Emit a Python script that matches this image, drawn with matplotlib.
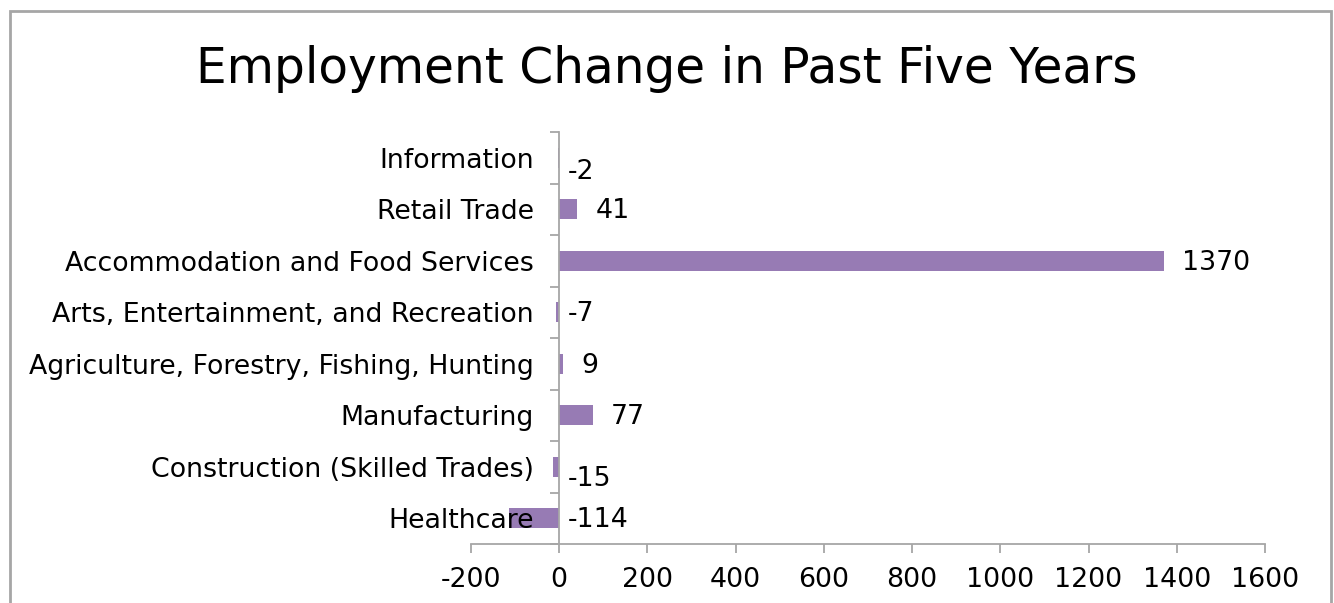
"""
Horizontal bar chart: employment change in past five years
"""

import numpy as np
from matplotlib import pyplot as plt, rcParams as rcP
from matplotlib.patches import Rectangle

rcP["font.family"] = "DejaVu Sans"

# Data (bottom to top)
categories = [
    "Healthcare",
    "Construction (Skilled Trades)",
    "Manufacturing",
    "Agriculture, Forestry, Fishing, Hunting",
    "Arts, Entertainment, and Recreation",
    "Accommodation and Food Services",
    "Retail Trade",
    "Information",
]
changes = [-114, -15, 77, 9, -7, 1370, 41, -2]
x_ticks = [-200, 0, 200, 400, 600, 800, 1000, 1200, 1400, 1600]

# Excel-like nudge for some negative labels (pixels down)
label_drop = {"Construction (Skilled Trades)": 10, "Information": 12}

bar_color = "#977BB4"
axis_color = "#A6A6A6"
fs = 19.3

fig = plt.figure(figsize=(13.34, 6.03), dpi=100)
ax = fig.add_axes([471 / 1334, 59 / 603, 794 / 1334, 412 / 603])
ax.set_axisbelow(False)  # category labels drawn over the bars

y = np.arange(len(categories))
ax.barh(y, changes, height=0.39, color=bar_color, zorder=2)

ax.set_xlim(-200, 1600)
ax.set_ylim(-0.5, len(categories) - 0.5)

# Spines
for s in ["top", "right"]:
    ax.spines[s].set_visible(False)
ax.spines["left"].set_position(("data", 0))
ax.spines["left"].set_color(axis_color)
ax.spines["left"].set_linewidth(1.3)
ax.spines["bottom"].set_color(axis_color)
ax.spines["bottom"].set_linewidth(1.3)

# Y ticks: labels at centers, marks at boundaries
ax.set_yticks(y)
ax.set_yticklabels(categories, fontsize=fs)
ax.tick_params(axis="y", which="major", length=0, pad=18.5)
ax.set_yticks(np.arange(len(categories) + 1) - 0.5, minor=True)
ax.tick_params(axis="y", which="minor", length=6.5, width=1.3, color=axis_color, direction="out")

ax.set_xticks(x_ticks)
ax.set_xticklabels([str(v) for v in x_ticks], fontsize=fs)
ax.tick_params(axis="x", length=6.5, width=1.3, color=axis_color, direction="out", pad=10)

# Value labels
for yi, (cat, v) in enumerate(zip(categories, changes)):
    xpos = max(v, 0)
    dx = 18 if v > 0 else 9
    drop = label_drop.get(cat, 0)
    ax.annotate(str(v), (xpos, yi), xytext=(dx, -drop - 2), textcoords="offset pixels",
                ha="left", va="center", fontsize=fs)

fig.suptitle("Employment Change in Past Five Years", fontsize=35, y=0.885, va="center")

# Outer frame of chart area
fig.add_artist(Rectangle((10 / 1334, -0.1), 1321 / 1334, 1.1 - 11 / 603,
                         transform=fig.transFigure, fill=False,
                         edgecolor=axis_color, linewidth=2, clip_on=False))

fig.savefig("out.png", dpi=100)
